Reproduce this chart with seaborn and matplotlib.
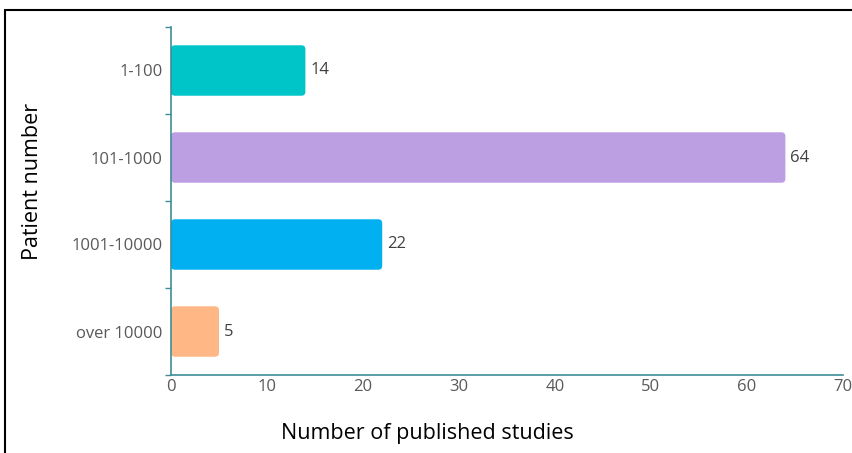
import matplotlib
matplotlib.use("Agg")
import matplotlib.pyplot as plt
from matplotlib.patches import FancyBboxPatch
from matplotlib.lines import Line2D
import seaborn as sns
import pandas as pd

categories = ["1-100", "101-1000", "1001-10000", "over 10000"]
studies = [14, 64, 22, 5]
bar_colors = ["#00C5C8", "#BC9FE2", "#00B0F0", "#FFB885"]

sns.set_theme(style="white")
plt.rcParams["font.family"] = ["Open Sans", "DejaVu Sans"]

df = pd.DataFrame({"group": categories, "count": studies})

W, H = 852, 453
ax_left, ax_right, ax_top, ax_bottom = 171, 843, 27, 375

fig = plt.figure(figsize=(W / 100, H / 100), dpi=100)
ax = fig.add_axes([ax_left / W, (H - ax_bottom) / H,
                   (ax_right - ax_left) / W, (ax_bottom - ax_top) / H])

sns.barplot(data=df, y="group", x="count", hue="group", palette=bar_colors,
            orient="h", width=0.58, legend=False, ax=ax, saturation=1)

ax.set_xlim(0, 70)
ax.set_ylim(3.5, -0.5)

# swap plain rectangles for rounded ones
px_per_x = (ax_right - ax_left) / 70
px_per_y = (ax_bottom - ax_top) / 4
radius_px = 4
for p in list(ax.patches):
    x0, y0 = p.get_x(), p.get_y()
    w, h = p.get_width(), p.get_height()
    fc = p.get_facecolor()
    p.remove()
    rb = FancyBboxPatch((x0, y0), w, h,
                        boxstyle=f"round,pad=0,rounding_size={radius_px / px_per_x}",
                        mutation_aspect=px_per_x / px_per_y,
                        facecolor=fc, edgecolor="none", zorder=2)
    ax.add_patch(rb)

for i, v in enumerate(studies):
    ax.annotate(str(v), xy=(v, i), xytext=(3.5, 0), textcoords="offset points",
                va="center", ha="left", fontsize=12, color="#404040")

spine_color = "#3E8E96"
for side in ["top", "right"]:
    ax.spines[side].set_visible(False)
for side in ["left", "bottom"]:
    ax.spines[side].set_color(spine_color)
    ax.spines[side].set_linewidth(1.2)

ax.set_xticks(range(0, 71, 10))
ax.tick_params(axis="x", which="major", direction="out", length=3, width=1,
               color=spine_color, labelcolor="#595959", labelsize=12, pad=0)
ax.set_yticks(range(len(categories)))
ax.set_yticklabels(categories)
ax.tick_params(axis="y", which="major", length=0, labelcolor="#595959",
               labelsize=12, pad=6)
ax.set_yticks([-0.5, 0.5, 1.5, 2.5, 3.5], minor=True)
ax.tick_params(axis="y", which="minor", direction="out", length=4, width=1,
               color=spine_color, left=True)

ax.set_xlabel("")
ax.set_ylabel("")
fig.text(427 / W, 1 - 434 / H, "Number of published studies", fontsize=15.5,
         color="black", ha="center", va="center")
fig.text(33 / W, 1 - 181 / H, "Patient number", fontsize=15.5, color="black",
         ha="center", va="center", rotation=90)

# frame lines along top and left of the figure
fig.add_artist(Line2D([5 / W, 5 / W], [0, 1 - 10 / H], transform=fig.transFigure,
                      color="black", linewidth=1.5))
fig.add_artist(Line2D([5 / W, 1], [1 - 10 / H, 1 - 10 / H], transform=fig.transFigure,
                      color="black", linewidth=1.5))

fig.savefig("out.png", dpi=100)
